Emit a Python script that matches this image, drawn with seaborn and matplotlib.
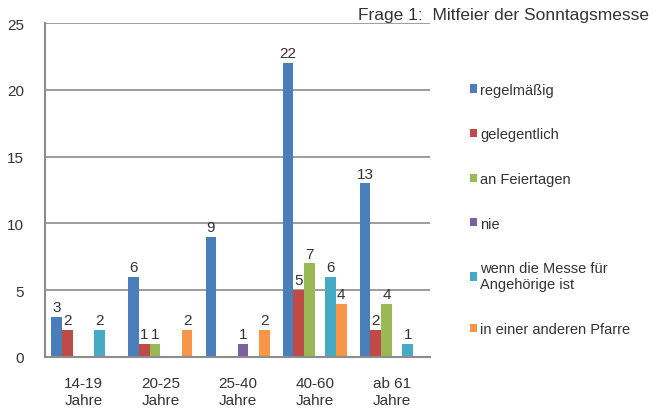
import matplotlib
matplotlib.use("Agg")
import matplotlib.pyplot as plt
import seaborn as sns
import pandas as pd

categories = ["14-19\nJahre", "20-25\nJahre", "25-40\nJahre", "40-60\nJahre", "ab 61\nJahre"]
series_names = ["regelmäßig", "gelegentlich", "an Feiertagen", "nie",
                "wenn die Messe für\nAngehörige ist", "in einer anderen Pfarre"]
regelmaessig = [3, 6, 9, 22, 13]
gelegentlich = [2, 1, 0, 5, 2]
feiertagen = [0, 1, 0, 7, 4]
nie = [0, 0, 1, 0, 0]
angehoerige = [2, 0, 0, 6, 1]
andere_pfarre = [0, 2, 2, 4, 0]
yticks = [0, 5, 10, 15, 20, 25]
title = "Frage 1:  Mitfeier der Sonntagsmesse"

colors = ["#4a7ebb", "#be4b48", "#98b954", "#7d60a0", "#46aac5", "#f79646"]

values = [regelmaessig, gelegentlich, feiertagen, nie, angehoerige, andere_pfarre]
rows = []
for name, vals in zip(series_names, values):
    for cat, v in zip(categories, vals):
        rows.append({"Alter": cat, "Serie": name, "Wert": v})
df = pd.DataFrame(rows)

sns.set_theme(style="white")
plt.rcParams["font.family"] = ["Liberation Sans", "DejaVu Sans"]

fig = plt.figure(figsize=(6.59, 4.10), dpi=100)
ax = fig.add_axes([0.068, 0.127, 0.585, 0.814])

sns.barplot(data=df, x="Alter", y="Wert", hue="Serie", order=categories,
            hue_order=series_names, palette=colors, width=0.83, ax=ax,
            saturation=1, legend=True, edgecolor="none")

for cont in ax.containers:
    labels = [("%d" % b.get_height()) if b.get_height() > 0 else "" for b in cont]
    ax.bar_label(cont, labels=labels, padding=2, fontsize=11, color="#333333")

ax.set_ylim(0, 25)
ax.set_xlim(-0.5, 4.5)
ax.set_yticks(yticks)
ax.yaxis.grid(True, color="#8c8c8c", linewidth=1.2)
ax.set_axisbelow(True)
ax.set_xlabel("")
ax.set_ylabel("")
ax.tick_params(axis="y", labelsize=11, labelcolor="#333333", pad=9, left=False)
ax.tick_params(axis="x", labelsize=11, labelcolor="#333333", pad=8, bottom=False)
for s in ["top", "right"]:
    ax.spines[s].set_visible(False)
for s in ["left", "bottom"]:
    ax.spines[s].set_color("#8c8c8c")
    ax.spines[s].set_linewidth(1.5)

handles, labels = ax.get_legend_handles_labels()
ax.legend_.remove()
fig.legend(handles, labels, loc="upper left", bbox_to_anchor=(0.693, 0.828),
           frameon=False, fontsize=10.5, labelspacing=2.1, handlelength=0.5,
           handleheight=0.5, handletextpad=0.2, labelcolor="#333333")

fig.text(0.985, 0.963, title, ha="right", va="center", fontsize=12.5, color="#333333")

fig.savefig("out.png", dpi=100)
